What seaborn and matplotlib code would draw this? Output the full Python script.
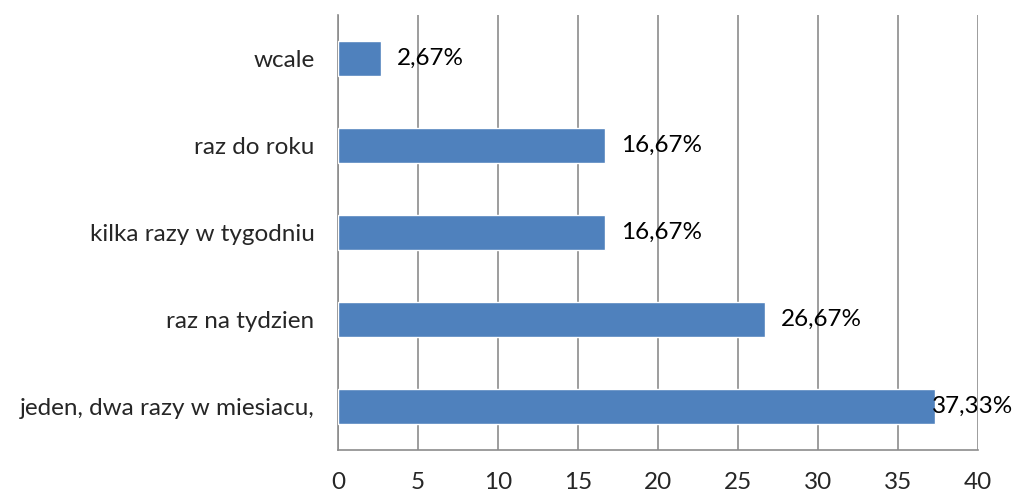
import numpy as np
import pandas as pd
import matplotlib
matplotlib.use("Agg")
import matplotlib.pyplot as plt
import seaborn as sns

# DATA
categories = [
    "wcale",
    "raz do roku",
    "kilka razy w tygodniu",
    "raz na tydzien",
    "jeden, dwa razy w miesiacu,",
]
values = [2.67, 16.67, 16.67, 26.67, 37.33]
x_ticks = [0, 5, 10, 15, 20, 25, 30, 35, 40]

BAR_COLOR = "#4F81BD"
GRID_COLOR = "#8C8C8C"
FS = 17.5

sns.set_style("white")
plt.rcParams["font.family"] = ["Lato", "DejaVu Sans"]

df = pd.DataFrame({"kategoria": categories, "wartosc": values})

fig = plt.figure(figsize=(10.15, 4.95), dpi=100)
ax = fig.add_axes([0.333, 0.091, 0.6305, 0.879])

sns.barplot(data=df, x="wartosc", y="kategoria", order=categories,
            color=BAR_COLOR, saturation=1, width=0.4, ax=ax, zorder=3)

ax.set_xlim(0, 40)
ax.set_ylim(len(categories) - 0.5, -0.5)
ax.set_xticks(x_ticks)
ax.set_xticklabels([str(t) for t in x_ticks], fontsize=FS)
ax.set_xlabel("")
ax.set_ylabel("")
ax.tick_params(axis="y", labelsize=FS, length=0, pad=17)
ax.set_yticks(np.arange(-0.5, len(categories), 1.0), minor=True)
ax.tick_params(axis="y", which="minor", length=8, color=GRID_COLOR, width=1.2)
ax.tick_params(axis="x", length=7, color=GRID_COLOR, width=1.2, pad=9)

ax.grid(axis="x", color=GRID_COLOR, linewidth=1.2, zorder=0)
ax.set_axisbelow(True)
for side in ["top", "right"]:
    ax.spines[side].set_visible(False)
for side in ["left", "bottom"]:
    ax.spines[side].set_color(GRID_COLOR)
    ax.spines[side].set_linewidth(1.2)

# value labels, pushed back inside the figure if they would overflow (like Excel)
fig.canvas.draw()
renderer = fig.canvas.get_renderer()
fig_w = fig.bbox.width
for i, v in enumerate(values):
    txt = ax.annotate(f"{v:.2f}%".replace(".", ","), xy=(v, i), xytext=(11.5, 0),
                      textcoords="offset points", va="center", ha="left",
                      fontsize=FS, color="black", zorder=5)
    bb = txt.get_window_extent(renderer)
    if bb.x1 > fig_w - 2:
        shift = (bb.x1 - (fig_w - 2)) * 72 / fig.dpi
        txt.set_position((11.5 - shift, 0))

fig.savefig("out.png", dpi=100)
